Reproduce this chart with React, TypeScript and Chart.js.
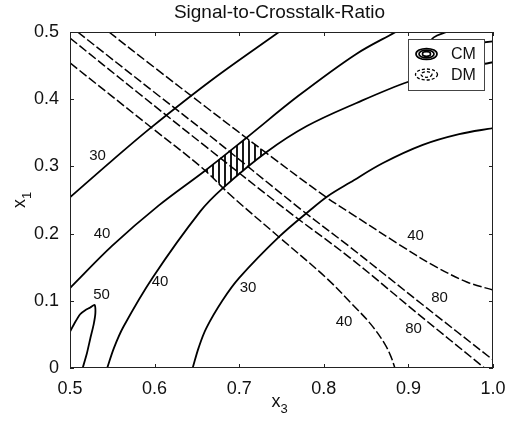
import React, { useEffect, useRef } from 'react';
import { Chart, registerables } from 'chart.js';

Chart.register(...registerables);

const FONT = "'Liberation Sans', Arial, Helvetica, sans-serif";

const chartTitle = 'Signal-to-Crosstalk-Ratio';
const xTickLabels = ['0.5', '0.6', '0.7', '0.8', '0.9', '1.0'];
const yTickLabels = ['0', '0.1', '0.2', '0.3', '0.4', '0.5'];
const legendLabels = ['CM', 'DM'];

// CM contours (solid)
const cm30UpperX = [0.5, 0.55, 0.595, 0.668, 0.747];
const cm30UpperY = [0.254, 0.309, 0.357, 0.429, 0.5];
const cm40UpperX = [0.5, 0.55, 0.605, 0.66, 0.708, 0.77, 0.838, 0.885];
const cm40UpperY = [0.119, 0.182, 0.242, 0.294, 0.342, 0.405, 0.467, 0.5];
const cm40LowerX = [0.544, 0.552, 0.563, 0.598, 0.654, 0.681, 0.732, 0.78, 0.838, 0.9, 0.95, 1.0];
const cm40LowerY = [0, 0.03, 0.061, 0.135, 0.233, 0.268, 0.321, 0.36, 0.394, 0.426, 0.443, 0.455];
const cm30LowerX = [0.645, 0.652, 0.661, 0.68, 0.7, 0.747, 0.783, 0.805, 0.831, 0.87, 0.917, 0.96, 1.0];
const cm30LowerY = [0, 0.03, 0.059, 0.1, 0.134, 0.195, 0.234, 0.256, 0.276, 0.305, 0.332, 0.348, 0.357];
const cm50X = [0.5, 0.506, 0.512, 0.518, 0.524, 0.529, 0.53, 0.528, 0.524, 0.52, 0.515];
const cm50Y = [0.054, 0.068, 0.08, 0.086, 0.09, 0.094, 0.082, 0.065, 0.044, 0.022, 0];
const cmCornerX = [0.945, 0.93, 0.925, 0.94, 0.97, 1.0];
const cmCornerY = [0.5, 0.492, 0.482, 0.478, 0.482, 0.486];

// DM contours (dashed)
const dm40UpperX = [0.546, 0.6, 0.661, 0.732, 0.803, 0.831, 0.89, 0.929, 0.969, 1.0];
const dm40UpperY = [0.5, 0.447, 0.388, 0.32, 0.254, 0.231, 0.183, 0.153, 0.128, 0.116];
const dm80UpperX = [0.509, 0.6, 0.661, 0.771, 0.831, 0.915, 1.0];
const dm80UpperY = [0.5, 0.41, 0.35, 0.238, 0.18, 0.096, 0.012];
const dm80LowerX = [0.5, 0.58, 0.661, 0.759, 0.831, 0.91, 0.99];
const dm80LowerY = [0.491, 0.41, 0.329, 0.232, 0.164, 0.082, 0];
const dm40LowerX = [0.5, 0.595, 0.656, 0.69, 0.747, 0.803, 0.835, 0.855, 0.872, 0.88, 0.884];
const dm40LowerY = [0.454, 0.359, 0.298, 0.257, 0.195, 0.134, 0.093, 0.066, 0.036, 0.015, 0];

// Hatched overlap region (corners)
const hatchX = [0.6595, 0.7084, 0.7315, 0.681];
const hatchY = [0.294, 0.3424, 0.3205, 0.268];

// Contour level labels
const contourLabelText = ['30', '40', '50', '40', '30', '40', '40', '80', '80'];
const contourLabelX = [0.5325, 0.5378, 0.5372, 0.6064, 0.7104, 0.8239, 0.9084, 0.9368, 0.906];
const contourLabelY = [0.317, 0.201, 0.11, 0.1295, 0.1205, 0.07, 0.198, 0.1057, 0.0595];

const toPoints = (xs: number[], ys: number[]) => xs.map((x, i) => ({ x, y: ys[i] }));

const overlayPlugin = {
  id: 'overlay',
  beforeDatasetsDraw(chart: any) {
    const { ctx, scales } = chart;
    const xs = scales.x;
    const ys = scales.y;
    const pts = hatchX.map((x, i) => [xs.getPixelForValue(x), ys.getPixelForValue(hatchY[i])]);
    ctx.save();
    ctx.beginPath();
    pts.forEach((p, i) => (i === 0 ? ctx.moveTo(p[0], p[1]) : ctx.lineTo(p[0], p[1])));
    ctx.closePath();
    ctx.clip();
    const minX = Math.min(...pts.map((p) => p[0]));
    const maxX = Math.max(...pts.map((p) => p[0]));
    const minY = Math.min(...pts.map((p) => p[1]));
    const maxY = Math.max(...pts.map((p) => p[1]));
    ctx.strokeStyle = '#000';
    ctx.lineWidth = 1.8;
    for (let x = Math.floor(minX) + 3; x < maxX; x += 6) {
      ctx.beginPath();
      ctx.moveTo(x, minY);
      ctx.lineTo(x, maxY);
      ctx.stroke();
    }
    ctx.restore();
  },
  afterDatasetsDraw(chart: any) {
    const { ctx, chartArea, scales } = chart;
    const { left, right, top, bottom } = chartArea;
    const xs = scales.x;
    const ys = scales.y;
    ctx.save();
    ctx.strokeStyle = '#222';
    ctx.lineWidth = 1;
    ctx.strokeRect(Math.round(left) + 0.5, Math.round(top) + 0.5, Math.round(right - left) - 1, Math.round(bottom - top) - 1);
    const tl = 4;
    xs.ticks.forEach((t: any) => {
      const px = Math.round(xs.getPixelForValue(t.value)) + 0.5;
      ctx.beginPath();
      ctx.moveTo(px, bottom);
      ctx.lineTo(px, bottom - tl);
      ctx.moveTo(px, top);
      ctx.lineTo(px, top + tl);
      ctx.stroke();
    });
    ys.ticks.forEach((t: any) => {
      const py = Math.round(ys.getPixelForValue(t.value)) + 0.5;
      ctx.beginPath();
      ctx.moveTo(left, py);
      ctx.lineTo(left + tl, py);
      ctx.moveTo(right, py);
      ctx.lineTo(right - tl, py);
      ctx.stroke();
    });
    ctx.fillStyle = '#111';
    ctx.font = `15px ${FONT}`;
    ctx.textAlign = 'center';
    ctx.textBaseline = 'middle';
    contourLabelText.forEach((txt, i) => {
      ctx.fillText(txt, xs.getPixelForValue(contourLabelX[i]), ys.getPixelForValue(contourLabelY[i]) + 1);
    });
    ctx.restore();
  },
  afterDraw(chart: any) {
    const { ctx, chartArea } = chart;
    const { left, right, top, bottom } = chartArea;
    ctx.save();
    const bx = right - 85;
    const by = top + 7;
    const bw = 76;
    const bh = 51;
    ctx.fillStyle = '#fff';
    ctx.fillRect(bx, by, bw, bh);
    ctx.strokeStyle = '#444';
    ctx.lineWidth = 1;
    ctx.strokeRect(bx + 0.5, by + 0.5, bw, bh);
    const cx = bx + 18.5;
    const cy1 = by + 15;
    const cy2 = by + 35.5;
    ctx.strokeStyle = '#000';
    ctx.lineWidth = 1.7;
    [[10.5, 5.5], [7.5, 3.8], [4, 2.3]].forEach(([rx, ry]) => {
      ctx.beginPath();
      ctx.ellipse(cx, cy1, rx, ry, 0, 0, Math.PI * 2);
      ctx.stroke();
    });
    ctx.lineWidth = 1.3;
    ctx.setLineDash([3, 2]);
    [[11, 5.5], [5.5, 2.8]].forEach(([rx, ry]) => {
      ctx.beginPath();
      ctx.ellipse(cx, cy2, rx, ry, 0, 0, Math.PI * 2);
      ctx.stroke();
    });
    ctx.setLineDash([]);
    ctx.fillStyle = '#111';
    ctx.font = `16px ${FONT}`;
    ctx.textAlign = 'left';
    ctx.textBaseline = 'middle';
    ctx.fillText(legendLabels[0], bx + 43, cy1 + 1);
    ctx.fillText(legendLabels[1], bx + 43, cy2 + 1);
    ctx.font = `19px ${FONT}`;
    ctx.textAlign = 'center';
    ctx.textBaseline = 'middle';
    ctx.fillText(chartTitle, (left + right) / 2 - 2, 13);
    ctx.textAlign = 'left';
    ctx.textBaseline = 'alphabetic';
    ctx.font = `18px ${FONT}`;
    const xw = ctx.measureText('x').width;
    const xlx = (left + right) / 2 - 10;
    ctx.fillText('x', xlx, 407);
    ctx.font = `13px ${FONT}`;
    ctx.fillText('3', xlx + xw, 413);
    ctx.translate(25, (top + bottom) / 2 + 8);
    ctx.rotate(-Math.PI / 2);
    ctx.font = `18px ${FONT}`;
    ctx.fillText('x', 0, 0);
    ctx.font = `13px ${FONT}`;
    ctx.fillText('1', xw, 6);
    ctx.restore();
  },
};

export default function App() {
  const canvasRef = useRef<HTMLCanvasElement | null>(null);

  useEffect(() => {
    if (!canvasRef.current) return;
    const solid = (xs: number[], ys: number[], tension = 0.35) => ({
      data: toPoints(xs, ys),
      showLine: true,
      borderColor: '#000',
      borderWidth: 1.8,
      pointRadius: 0,
      tension,
      fill: false,
      clip: 0,
    });
    const dashed = (xs: number[], ys: number[]) => ({
      data: toPoints(xs, ys),
      showLine: true,
      borderColor: '#000',
      borderWidth: 1.5,
      borderDash: [9, 3],
      pointRadius: 0,
      tension: 0.35,
      fill: false,
      clip: 0,
    });
    const chart = new Chart(canvasRef.current, {
      type: 'scatter',
      data: {
        datasets: [
          { label: 'CM 30 upper', ...solid(cm30UpperX, cm30UpperY) },
          { label: 'CM 40 upper', ...solid(cm40UpperX, cm40UpperY) },
          { label: 'CM 40 lower', ...solid(cm40LowerX, cm40LowerY) },
          { label: 'CM 30 lower', ...solid(cm30LowerX, cm30LowerY) },
          { label: 'CM 50', ...solid(cm50X, cm50Y, 0.2) },
          { label: 'CM corner', ...solid(cmCornerX, cmCornerY) },
          { label: 'DM 40 upper', ...dashed(dm40UpperX, dm40UpperY) },
          { label: 'DM 80 upper', ...dashed(dm80UpperX, dm80UpperY) },
          { label: 'DM 80 lower', ...dashed(dm80LowerX, dm80LowerY) },
          { label: 'DM 40 lower', ...dashed(dm40LowerX, dm40LowerY) },
        ] as any,
      },
      options: {
        responsive: false,
        animation: false,
        devicePixelRatio: 1,
        events: [],
        layout: { padding: { top: 32, right: 23, left: 0, bottom: 0 } },
        plugins: {
          legend: { display: false },
          tooltip: { enabled: false },
          title: { display: false },
        },
        scales: {
          x: {
            type: 'linear',
            min: 0.5,
            max: 1.0,
            grid: { display: false },
            border: { display: false },
            ticks: {
              stepSize: 0.1,
              autoSkip: false,
              maxRotation: 0,
              padding: 2,
              color: '#111',
              font: { size: 18, family: FONT },
              callback: (v: any) => xTickLabels[Math.round((Number(v) - 0.5) * 10)] ?? '',
            },
            afterFit: (scale: any) => {
              scale.height = 53;
            },
          },
          y: {
            type: 'linear',
            min: 0,
            max: 0.5,
            grid: { display: false },
            border: { display: false },
            ticks: {
              stepSize: 0.1,
              autoSkip: false,
              padding: 3,
              color: '#111',
              font: { size: 18, family: FONT },
              callback: (v: any) => yTickLabels[Math.round(Number(v) * 10)] ?? '',
            },
            afterFit: (scale: any) => {
              scale.width = 70;
            },
          },
        },
      } as any,
      plugins: [overlayPlugin],
    });
    return () => chart.destroy();
  }, []);

  return (
    <div style={{ position: 'absolute', left: 0, top: 0, width: 516, height: 421, background: '#fff' }}>
      <canvas ref={canvasRef} width={516} height={421} />
    </div>
  );
}
